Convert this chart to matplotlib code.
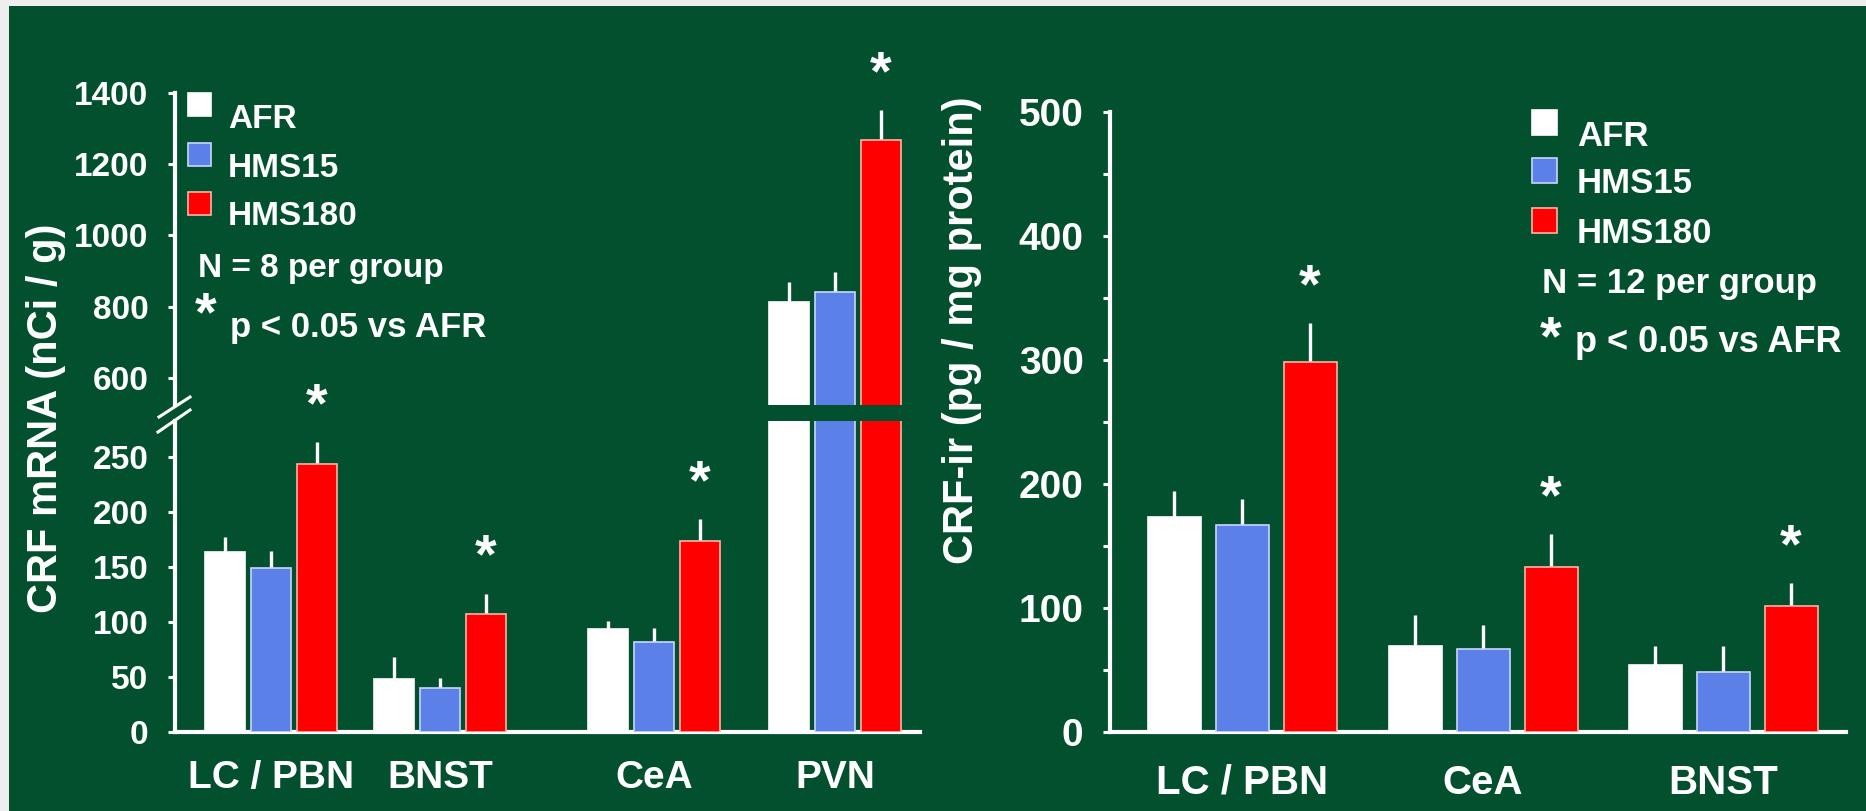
import matplotlib
matplotlib.use("Agg")
import matplotlib.pyplot as plt
from matplotlib.patches import Rectangle
from matplotlib.lines import Line2D
import numpy as np

# CRF mRNA (left panel) - region order as plotted
mrna_regions = ['LC / PBN', 'BNST', 'CeA', 'PVN']
mrna_afr = [164, 48, 94, 813]
mrna_afr_sem = [13, 20, 7, 57]
mrna_hms15 = [149, 40, 82, 842]
mrna_hms15_sem = [16, 9, 13, 56]
mrna_hms180 = [244, 107, 174, 1268]
mrna_hms180_sem = [20, 19, 20, 85]

# CRF-ir protein (right panel)
ir_regions = ['LC / PBN', 'CeA', 'BNST']
ir_afr = [173, 69, 54]
ir_afr_sem = [21, 25, 15]
ir_hms15 = [167, 67, 48]
ir_hms15_sem = [21, 19, 21]
ir_hms180 = [298, 133, 102]
ir_hms180_sem = [32, 27, 18]

groups = ['AFR', 'HMS15', 'HMS180']

BG = '#03502f'
FILLS = ['#ffffff', '#5b80e8', '#fe0000']
EDGES = ['#ffffff', '#c9d6fa', '#ffb4a8']

W, H = 1866, 811
FONT = 'Liberation Sans'
plt.rcParams['font.family'] = [FONT, 'DejaVu Sans']
plt.rcParams['font.weight'] = 'bold'

fig = plt.figure(figsize=(W / 100, H / 100), dpi=100, facecolor=BG)


def box(x0, y0, x1, y1):
    # pixel box (top-left origin) -> figure fraction rect
    return [x0 / W, 1 - y1 / H, (x1 - x0) / W, (y1 - y0) / H]


def fx(x):
    return x / W


def fy(y):
    return 1 - y / H


def style_axis(ax, label_size):
    ax.set_facecolor('none')
    for s in ['top', 'right']:
        ax.spines[s].set_visible(False)
    for s in ['left', 'bottom']:
        ax.spines[s].set_color('white')
        ax.spines[s].set_linewidth(3)
    ax.tick_params(axis='y', colors='white', length=5, width=2.2, pad=14,
                   labelsize=label_size)
    ax.tick_params(axis='y', which='minor', colors='white', length=5, width=2.2)
    for t in ax.get_yticklabels():
        t.set_fontweight('bold')


def draw_bars(ax, centers, pitch, width, series, sems):
    centers = np.asarray(centers, dtype=float)
    for i, (vals, err) in enumerate(zip(series, sems)):
        x = centers + (i - 1) * pitch
        ax.bar(x, vals, width, color=FILLS[i], edgecolor=EDGES[i],
               linewidth=1.2, zorder=3)
        ax.errorbar(x, vals, yerr=[np.zeros(len(vals)), err], fmt='none',
                    ecolor='white', elinewidth=2.4, capsize=0, zorder=2)


def star(ax, x, y):
    ax.annotate('*', xy=(x, y), xytext=(0, 15), textcoords='offset points',
                ha='center', va='baseline', fontsize=40, color='white',
                fontweight='bold', annotation_clip=False)


# ---------------- left panel: broken axis ----------------
mrna_series = [mrna_afr, mrna_hms15, mrna_hms180]
mrna_sems = [mrna_afr_sem, mrna_hms15_sem, mrna_hms180_sem]
left_centers = [96, 265, 479, 660]
left_pitch, left_width = 46, 40

ax_lo = fig.add_axes(box(175, 421, 920, 732))
ax_hi = fig.add_axes(box(175, 93, 920, 405))

for ax in (ax_lo, ax_hi):
    draw_bars(ax, left_centers, left_pitch, left_width, mrna_series, mrna_sems)
    ax.set_xlim(0, 745)
    style_axis(ax, 24)

ax_lo.set_ylim(0, 283)
ax_lo.set_yticks([0, 50, 100, 150, 200, 250])
ax_lo.set_xticks(left_centers)
ax_lo.set_xticklabels(mrna_regions, fontsize=28, fontweight='bold', color='white')
ax_lo.tick_params(axis='x', length=0, pad=20)

ax_hi.set_ylim(524, 1400)
ax_hi.set_yticks([600, 800, 1000, 1200, 1400])
ax_hi.spines['bottom'].set_visible(False)
ax_hi.set_xticks([])

for c, v, e in zip(left_centers, mrna_hms180, mrna_hms180_sem):
    top = v + e
    star(ax_hi if top > 600 else ax_lo, c + left_pitch, top)

# axis break marks
for (x0, y0, x1, y1) in [(159, 417, 190, 397), (158, 432, 190, 410)]:
    fig.add_artist(Line2D([fx(x0), fx(x1)], [fy(y0), fy(y1)], color='white',
                          lw=2.2, transform=fig.transFigure))

fig.text(fx(46), fy(418), 'CRF mRNA (nCi / g)', rotation=90, ha='center',
         va='center', fontsize=30, color='white', fontweight='bold')

# ---------------- right panel ----------------
ir_series = [ir_afr, ir_hms15, ir_hms180]
ir_sems = [ir_afr_sem, ir_hms15_sem, ir_hms180_sem]
right_centers = [132, 373, 613]
right_pitch, right_width = 68, 53

ax_r = fig.add_axes(box(1110, 112, 1846, 732))
draw_bars(ax_r, right_centers, right_pitch, right_width, ir_series, ir_sems)
ax_r.set_xlim(0, 736)
ax_r.set_ylim(0, 500)
ax_r.set_yticks([0, 100, 200, 300, 400, 500])
ax_r.set_yticks([50, 150, 250, 350, 450], minor=True)
style_axis(ax_r, 28)
ax_r.set_xticks(right_centers)
ax_r.set_xticklabels(ir_regions, fontsize=29, fontweight='bold', color='white')
ax_r.tick_params(axis='x', length=0, pad=23)

for c, v, e in zip(right_centers, ir_hms180, ir_hms180_sem):
    star(ax_r, c + right_pitch, v + e)

fig.text(fx(962), fy(330), 'CRF-ir (pg / mg protein)', rotation=90,
         ha='center', va='center', fontsize=30, color='white', fontweight='bold')


# ---------------- legends / notes ----------------
def legend_block(sq_x, sq_size, sq_tops, txt_x, baselines, size):
    for i, name in enumerate(groups):
        fig.add_artist(Rectangle((fx(sq_x), fy(sq_tops[i] + sq_size)),
                                 sq_size / W, sq_size / H,
                                 facecolor=FILLS[i], edgecolor=EDGES[i], lw=1.2,
                                 transform=fig.transFigure))
        fig.text(fx(txt_x), fy(baselines[i]), name, fontsize=size,
                 color='white', fontweight='bold', va='baseline')


legend_block(188, 23, [93, 143, 192], 228, [128, 177, 225], 24)
fig.text(fx(198), fy(277), 'N = 8 per group', fontsize=24, color='white',
         fontweight='bold', va='baseline')
fig.text(fx(206), fy(330), '*', fontsize=40, color='white', fontweight='bold',
         ha='center', va='baseline')
fig.text(fx(230), fy(337), 'p < 0.05 vs AFR', fontsize=25, color='white',
         fontweight='bold', va='baseline')

legend_block(1532, 25, [110, 158, 208], 1577, [146, 193, 243], 25)
fig.text(fx(1542), fy(293), 'N = 12 per group', fontsize=25, color='white',
         fontweight='bold', va='baseline')
fig.text(fx(1551), fy(354), '*', fontsize=40, color='white', fontweight='bold',
         ha='center', va='baseline')
fig.text(fx(1575), fy(352), 'p < 0.05 vs AFR', fontsize=26, color='white',
         fontweight='bold', va='baseline')

# light page edge along the top and left
fig.add_artist(Rectangle((0, fy(6)), 1, 6 / H, facecolor='#eeeeee',
                         edgecolor='none', transform=fig.transFigure))
fig.add_artist(Rectangle((0, 0), 9 / W, 1, facecolor='#eeeeee',
                         edgecolor='none', transform=fig.transFigure))

fig.savefig('out.png', dpi=100, facecolor=BG)
